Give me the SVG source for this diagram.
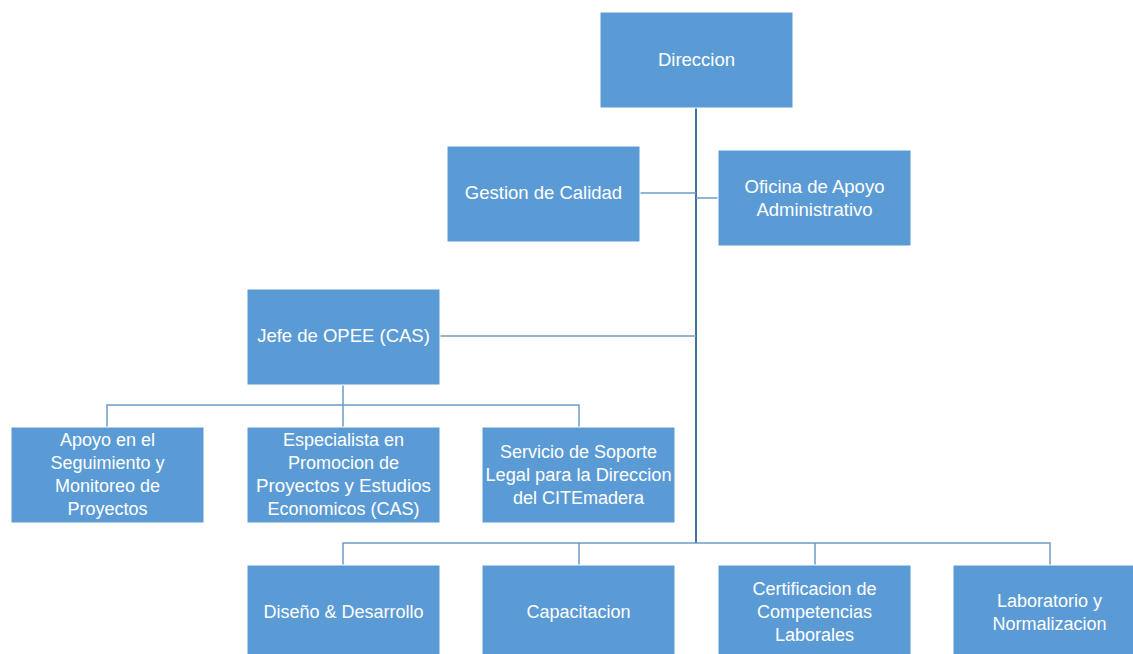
<svg xmlns="http://www.w3.org/2000/svg" width="1133" height="654" viewBox="0 0 1133 654">
  <style>
    .box { fill: #5B9BD5; stroke: #ffffff; stroke-width: 1; }
    .lbl { fill: #ffffff; font-family: "Liberation Sans", "DejaVu Sans", sans-serif; font-size: 18.5px; text-anchor: middle; }
    .sm { font-size: 18px; }
    .trunk { stroke: #41719C; stroke-width: 2; fill: none; }
    .link { stroke: #6E9CC8; stroke-width: 1.5; fill: none; }
  </style>
  <rect width="1133" height="654" fill="#ffffff"/>

  <g id="connectors">
    <path class="trunk" d="M696 107 V543"/>
    <path class="link" d="M640 193 H696"/>
    <path class="link" d="M696 198 H718"/>
    <path class="link" d="M440 336 H696"/>
    <path class="link" d="M343 384 V405 M107 427 V405 H579 V427 M343 405 V427"/>
    <path class="link" d="M343 565 V543 H1050 V565 M579 543 V565 M815 543 V565"/>
  </g>

  <g id="direccion">
    <rect class="box" x="600" y="12" width="193" height="96"/>
    <text class="lbl" x="696.5" y="66">Direccion</text>
  </g>
  <g id="gestion-calidad">
    <rect class="box" x="447" y="146" width="193" height="96"/>
    <text class="lbl" x="543.5" y="199">Gestion de Calidad</text>
  </g>
  <g id="oficina-apoyo">
    <rect class="box" x="718" y="150" width="193" height="96"/>
    <text class="lbl" x="814.5" y="193">Oficina de Apoyo</text>
    <text class="lbl" x="814.5" y="216">Administrativo</text>
  </g>
  <g id="jefe-opee">
    <rect class="box" x="247" y="289" width="193" height="96"/>
    <text class="lbl" x="343.5" y="342">Jefe de OPEE (CAS)</text>
  </g>
  <g id="apoyo-seguimiento">
    <rect class="box" x="11" y="427" width="193" height="96"/>
    <text class="lbl sm" x="107.5" y="446">Apoyo en el</text>
    <text class="lbl sm" x="107.5" y="469">Seguimiento y</text>
    <text class="lbl sm" x="107.5" y="492">Monitoreo de</text>
    <text class="lbl sm" x="107.5" y="515">Proyectos</text>
  </g>
  <g id="especialista">
    <rect class="box" x="247" y="427" width="193" height="96"/>
    <text class="lbl sm" x="343.5" y="446">Especialista en</text>
    <text class="lbl sm" x="343.5" y="469">Promocion de</text>
    <text class="lbl sm" x="343.5" y="492" textLength="175" lengthAdjust="spacingAndGlyphs">Proyectos y Estudios</text>
    <text class="lbl sm" x="343.5" y="515">Economicos (CAS)</text>
  </g>
  <g id="soporte-legal">
    <rect class="box" x="482" y="427" width="193" height="96"/>
    <text class="lbl sm" x="578.5" y="458">Servicio de Soporte</text>
    <text class="lbl sm" x="578.5" y="481" textLength="186" lengthAdjust="spacingAndGlyphs">Legal para la Direccion</text>
    <text class="lbl sm" x="578.5" y="504">del CITEmadera</text>
  </g>
  <g id="diseno">
    <rect class="box" x="247" y="565" width="193" height="96"/>
    <text class="lbl sm" x="343.5" y="618">Diseño &amp; Desarrollo</text>
  </g>
  <g id="capacitacion">
    <rect class="box" x="482" y="565" width="193" height="96"/>
    <text class="lbl sm" x="578.5" y="618">Capacitacion</text>
  </g>
  <g id="certificacion">
    <rect class="box" x="718" y="565" width="193" height="96"/>
    <text class="lbl sm" x="814.5" y="595">Certificacion de</text>
    <text class="lbl sm" x="814.5" y="618">Competencias</text>
    <text class="lbl sm" x="814.5" y="641">Laborales</text>
  </g>
  <g id="laboratorio">
    <rect class="box" x="953" y="565" width="193" height="96"/>
    <text class="lbl sm" x="1049.5" y="607">Laboratorio y</text>
    <text class="lbl sm" x="1049.5" y="630">Normalizacion</text>
  </g>
</svg>
